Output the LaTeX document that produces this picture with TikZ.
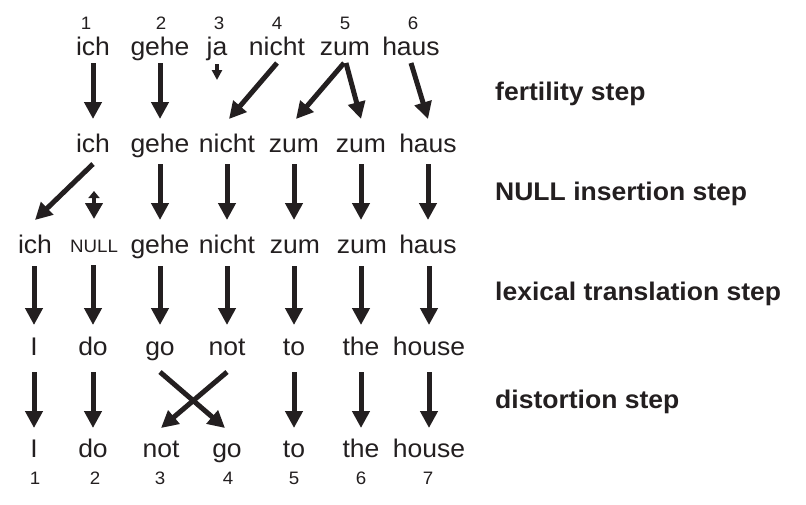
\documentclass[tikz,border=0pt]{standalone}
\usepackage{fontspec}
\setmainfont{Liberation Sans}[FakeStretch=1.04]
\usetikzlibrary{arrows.meta}
\definecolor{ink}{HTML}{231F20}
\begin{document}
\begin{tikzpicture}[x=1pt,y=-1pt,
  word/.style={anchor=base, inner sep=0pt, font=\fontsize{25.5}{29}\selectfont, text=ink},
  smallword/.style={anchor=base, inner sep=0pt, font=\fontsize{18}{21}\selectfont, text=ink},
  num/.style={anchor=base, inner sep=0pt, font=\fontsize{18}{21}\selectfont, text=ink},
  steplabel/.style={anchor=base west, inner sep=0pt, font=\fontsize{25.5}{29}\selectfont\bfseries, text=ink},
  arr/.style={draw=ink, line width=5pt, -{Triangle[width=17pt,length=17pt]}},
  tinyarr/.style={draw=ink, line width=4pt, -{Triangle[width=10pt,length=10pt]}},
  nullarr/.style={draw=ink, line width=4pt, {Triangle[width=11pt,length=7pt]}-{Triangle[width=17pt,length=16pt]}}
]
\useasboundingbox (0,0) rectangle (806,504);

% top numbers
\node[num] (t1) at (86,29) {1};
\node[num] (t2) at (161,29) {2};
\node[num] (t3) at (219,29) {3};
\node[num] (t4) at (277,29) {4};
\node[num] (t5) at (345,29) {5};
\node[num] (t6) at (413,29) {6};

% row 1
\node[word] (a1) at (93,55) {ich};
\node[word] (a2) at (160,55) {gehe};
\node[word] (a3) at (217,55) {ja};
\node[word] (a4) at (277,55) {nicht};
\node[word] (a5) at (345,55) {zum};
\node[word] (a6) at (411,55) {haus};

% row 2
\node[word] (b1) at (93,152) {ich};
\node[word] (b2) at (160,152) {gehe};
\node[word] (b3) at (227,152) {nicht};
\node[word] (b4) at (294,152) {zum};
\node[word] (b5) at (361,152) {zum};
\node[word] (b6) at (428,152) {haus};

% row 3
\node[word] (c1) at (35,253) {ich};
\node[smallword] (c2) at (94,252) {NULL};
\node[word] (c3) at (160,253) {gehe};
\node[word] (c4) at (227,253) {nicht};
\node[word] (c5) at (295,253) {zum};
\node[word] (c6) at (362,253) {zum};
\node[word] (c7) at (428,253) {haus};

% row 4
\node[word] (d1) at (34,355) {I};
\node[word] (d2) at (93,355) {do};
\node[word] (d3) at (160,355) {go};
\node[word] (d4) at (227,355) {not};
\node[word] (d5) at (294,355) {to};
\node[word] (d6) at (361,355) {the};
\node[word] (d7) at (429,355) {house};

% row 5
\node[word] (e1) at (34,457) {I};
\node[word] (e2) at (93,457) {do};
\node[word] (e3) at (161,457) {not};
\node[word] (e4) at (227,457) {go};
\node[word] (e5) at (294,457) {to};
\node[word] (e6) at (361,457) {the};
\node[word] (e7) at (429,457) {house};

% bottom numbers
\node[num] (n1) at (35,484) {1};
\node[num] (n2) at (95,484) {2};
\node[num] (n3) at (160,484) {3};
\node[num] (n4) at (228,484) {4};
\node[num] (n5) at (294,484) {5};
\node[num] (n6) at (361,484) {6};
\node[num] (n7) at (428,484) {7};

% step labels
\node[steplabel] (s1) at (495,100) {fertility step};
\node[steplabel] (s2) at (495,200) {NULL insertion step};
\node[steplabel] (s3) at (495,300) {lexical translation step};
\node[steplabel] (s4) at (495,408) {distortion step};

% fertility step
\draw[arr] ([yshift=-8pt]a1.base) -- ([yshift=33pt]b1.base);
\draw[arr] ([yshift=-8pt]a2.base) -- ([yshift=33pt]b2.base);
\draw[tinyarr] ([yshift=-9pt]a3.base) -- ([yshift=-25pt]a3.base);
\draw[arr] ([yshift=-8pt]a4.base) -- ([xshift=2pt,yshift=33pt]b3.base);
\draw[arr] ([xshift=-1pt,yshift=-8pt]a5.base) -- ([xshift=2pt,yshift=33pt]b4.base);
\draw[arr] ([xshift=1pt,yshift=-8pt]a5.base) -- ([yshift=33pt]b5.base);
\draw[arr] ([yshift=-8pt]a6.base) -- ([yshift=33pt]b6.base);

% NULL insertion step
\draw[arr] ([yshift=-12pt]b1.base) -- ([yshift=33pt]c1.base);
\draw[nullarr] ([yshift=61pt]c2.base) -- ([yshift=33pt]c2.base);
\draw[arr] ([yshift=-12pt]b2.base) -- ([yshift=33pt]c3.base);
\draw[arr] ([yshift=-12pt]b3.base) -- ([yshift=33pt]c4.base);
\draw[arr] ([yshift=-12pt]b4.base) -- ([yshift=33pt]c5.base -| b4.base);
\draw[arr] ([yshift=-12pt]b5.base) -- ([yshift=33pt]c6.base -| b5.base);
\draw[arr] ([yshift=-12pt]b6.base) -- ([yshift=33pt]c7.base);

% lexical translation step
\draw[arr] ([yshift=-13pt]c1.base -| d1.base) -- ([yshift=30pt]d1.base);
\draw[arr] ([yshift=-13pt]c2.base -| d2.base) -- ([yshift=30pt]d2.base);
\draw[arr] ([yshift=-13pt]c3.base) -- ([yshift=30pt]d3.base);
\draw[arr] ([yshift=-13pt]c4.base) -- ([yshift=30pt]d4.base);
\draw[arr] ([yshift=-13pt]c5.base -| d5.base) -- ([yshift=30pt]d5.base);
\draw[arr] ([yshift=-13pt]c6.base -| d6.base) -- ([yshift=30pt]d6.base);
\draw[arr] ([yshift=-13pt]c7.base -| d7.base) -- ([yshift=30pt]d7.base);

% distortion step
\draw[arr] ([yshift=-17pt]d1.base) -- ([yshift=29pt]e1.base);
\draw[arr] ([yshift=-17pt]d2.base) -- ([yshift=29pt]e2.base);
\draw[arr] ([yshift=-17pt]d3.base) -- ([xshift=-2pt,yshift=29pt]e4.base);
\draw[arr] ([yshift=-17pt]d4.base) -- ([yshift=29pt]e3.base);
\draw[arr] ([yshift=-17pt]d5.base) -- ([yshift=29pt]e5.base);
\draw[arr] ([yshift=-17pt]d6.base) -- ([yshift=29pt]e6.base);
\draw[arr] ([yshift=-17pt]d7.base) -- ([yshift=29pt]e7.base);
\end{tikzpicture}
\end{document}
